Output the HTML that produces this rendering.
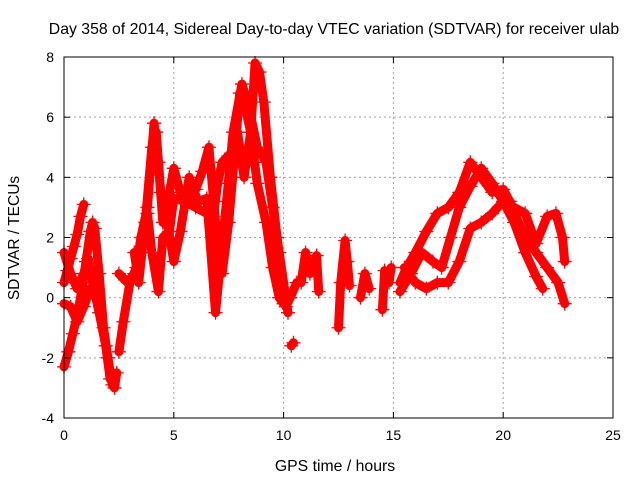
<!DOCTYPE html>
<html><head><meta charset="utf-8"><style>
body{margin:0;background:#fff}
svg{display:block;font-family:"Liberation Sans",sans-serif}
</style></head><body>
<svg id="chart" width="640" height="480">
<rect width="640" height="480" fill="#fff"/>
<text x="334" y="34" font-size="15.8" text-anchor="middle">Day 358 of 2014, Sidereal Day-to-day VTEC variation (SDTVAR) for receiver ulab</text>
<text x="335" y="471" font-size="15.8" text-anchor="middle">GPS time / hours</text>
<text transform="translate(19,238) rotate(-90)" font-size="15.5" text-anchor="middle">SDTVAR / TECUs</text>
<g id="grid"></g><g id="marks"></g><g id="axes"></g>
</svg>
<script>
const xTicks=[0,5,10,15,20,25];
const yTicks=[-4,-2,0,2,4,6,8];
const track1=[[0,0.5],[0.15,0.9],[0.3,1.3],[0.45,1.7],[0.6,2.1],[0.75,2.7],[0.9,3.1]];
const track2=[[0,-2.3],[0.2,-1.8],[0.4,-1.2],[0.6,-0.6],[0.8,0.2],[1.0,1.2],[1.2,2.2],[1.3,2.5],[1.4,2.3],[1.6,0.8],[1.8,-1],[2.0,-2],[2.2,-2.9],[2.3,-3],[2.4,-2.5]];
const track3=[[0,1.5],[0.3,0.8],[0.6,0.3],[0.9,0.8],[1.1,1.3],[1.3,0.5],[1.6,-0.5],[1.9,-1.6],[2.1,-2.7]];
const track4=[[0,-0.2],[0.3,-0.3],[0.6,-0.8],[0.9,-0.3],[1.2,0.3],[1.5,0.2]];
const track5=[[2.5,-1.8],[2.7,-0.8],[3,0.5],[3.3,1],[3.5,2],[3.8,3],[4.1,5.8],[4.3,4.5],[4.5,2.5],[4.8,3.5],[5,4.3],[5.3,3.5],[5.6,3.2],[6,3.6],[6.3,4.2],[6.6,5],[6.9,2.5],[7.2,0.8],[7.5,2.5],[7.8,5],[8,6.8],[8.2,6.5],[8.5,5.5],[8.7,7.8],[8.9,7.5],[9.1,6.5],[9.4,4],[9.7,2],[9.9,0.5],[10.1,-0.3],[10.3,0],[10.6,0.5]];
const track6=[[2.5,0.8],[2.9,0.5],[3.2,0.8],[3.5,1.5],[3.8,2.8],[4.0,1.5],[4.3,0.2],[4.5,2],[4.8,2.2],[5,3.3],[5.5,3.2],[6,3],[6.5,2.8],[6.8,2.7],[7.0,3.8],[7.2,4.5],[7.6,4.8],[7.9,5.5],[8.2,4],[8.5,5.5],[8.8,3.8],[9.2,2.5],[9.5,1],[9.8,0],[10,-0.2]];
const track7=[[3.2,1.5],[3.4,0.5],[3.7,2.5],[4.0,5],[4.2,5.5],[4.4,3.5],[4.7,2.5],[5,1.2],[5.3,2.2],[5.7,4],[6.1,3.2],[6.5,3.3],[6.9,-0.5],[7.4,3.2],[7.7,5.5],[8.1,7.1],[8.4,6.4],[8.8,5],[9.2,4.5],[9.5,3],[9.8,1.5],[10.2,-0.5]];
const track8=[[10.35,-1.6],[10.45,-1.5]];
const track9=[[10.8,0.5],[11,1.5],[11.2,0.8],[11.5,1.4],[11.6,0.2]];
const track10=[[12.5,-1],[12.6,0.5],[12.8,1.9],[12.9,1.2],[13,0.4]];
const track11=[[13.5,0],[13.7,0.8],[13.9,0.3]];
const track12=[[14.5,-0.4],[14.6,0.9],[14.8,0.5],[14.9,1]];
const track13=[[15.3,0.5],[15.6,1],[16,1.5],[16.5,2.2],[17,2.8],[17.5,3],[18,3.5],[18.5,4.5],[19,4],[19.5,3.5],[20,3.6],[20.3,3.2],[20.7,2.5],[21,2],[21.5,1.5],[22,1],[22.5,0.5],[22.8,-0.2]];
const track14=[[15.3,0.2],[15.8,0.8],[16.3,1.5],[16.8,1.2],[17.2,1],[17.6,2],[18,3],[18.5,3.7],[19,4.3],[19.5,3.8],[20,3.2],[20.5,2.5],[21,1.5],[21.5,0.7],[21.8,0.3]];
const track15=[[15.5,1],[16,0.5],[16.5,0.3],[17,0.5],[17.5,0.5],[18,1.2],[18.5,2.3],[19,2.5],[19.5,2.8],[20,3.2],[20.5,3],[21,2.8],[21.5,1.8],[22,2.7],[22.4,2.8],[22.7,2],[22.8,1.2]];
const tracks=[track1,track2,track3,track4,track5,track6,track7,track8,track9,track10,track11,track12,track13,track14,track15];

const L=64,R=613,T=57,B=418;
const xs=v=>L+(v-0)/25*(R-L);
const ys=v=>B-(v+4)/12*(B-T);
const NS="http://www.w3.org/2000/svg";
function mk(tag,attrs,parent){const e=document.createElementNS(NS,tag);for(const k in attrs)e.setAttribute(k,attrs[k]);parent.appendChild(e);return e;}
const grid=document.getElementById('grid'),marks=document.getElementById('marks'),axes=document.getElementById('axes');
xTicks.forEach(t=>{
  if(t>0&&t<25){const g=mk('line',{x1:xs(t),x2:xs(t),y1:T,y2:B,stroke:'#a0a0a0','stroke-dasharray':'2,3'},grid);
  
  }
  const tx=mk('text',{x:xs(t),y:B+22,'font-size':14,'text-anchor':'middle'},axes);tx.textContent=t;
  
  
  mk('line',{x1:xs(t),x2:xs(t),y1:B,y2:B-6,stroke:'#000'},axes);
  mk('line',{x1:xs(t),x2:xs(t),y1:T,y2:T+6,stroke:'#000'},axes);
});
yTicks.forEach(t=>{
  if(t>-4&&t<8){const g=mk('line',{x1:L,x2:R,y1:ys(t),y2:ys(t),stroke:'#a0a0a0','stroke-dasharray':'2,3'},grid);
  
  }
  const tx=mk('text',{x:L-10,y:ys(t)+5,'font-size':14,'text-anchor':'end'},axes);tx.textContent=t;
  
  
  mk('line',{x1:L,x2:L+6,y1:ys(t),y2:ys(t),stroke:'#000'},axes);
  mk('line',{x1:R,x2:R-6,y1:ys(t),y2:ys(t),stroke:'#000'},axes);
});
const frame=mk('rect',{x:L,y:T,width:R-L,height:B-T,fill:'none',stroke:'#000'},axes);


tracks.forEach(tr=>{
  const pl=mk('polyline',{points:tr.map(p=>xs(p[0])+','+ys(p[1])).join(' '),fill:'none',stroke:'#ff0000','stroke-width':9,'stroke-linejoin':'round','stroke-linecap':'round'},marks);
  
  
  tr.forEach(p=>{
    const x=xs(p[0]),y=ys(p[1]);
    const m=mk('path',{d:`M${x-7},${y}H${x+7}M${x},${y-7}V${y+7}`,stroke:'#ff0000','stroke-width':1.3},marks);
    
    
  });
});
</script>
</body></html>
